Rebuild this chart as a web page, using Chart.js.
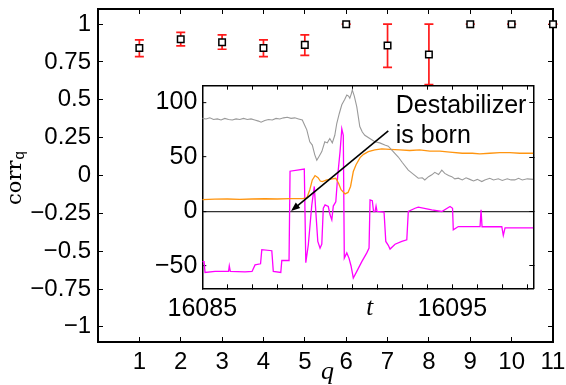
<!DOCTYPE html>
<html>
<head>
<meta charset="utf-8">
<script src="https://cdn.jsdelivr.net/npm/chart.js@4"></script>
<style>
  html, body { margin: 0; padding: 0; background: #fff; }
  #wrap { position: relative; width: 566px; height: 385px; }
  #main { position: absolute; left: 0; top: 0; }
  #inset { position: absolute; left: 150px; top: 80px; }
</style>
</head>
<body>
<div id="wrap">
  <canvas id="main" width="566" height="385"></canvas>
  <canvas id="inset" width="390" height="240"></canvas>
</div>
<script>
// main panel: correlation per q, with error bars
const qValues = [1, 2, 3, 4, 5, 6, 7, 8, 9, 10, 11]
const corrMean = [0.843, 0.90, 0.88, 0.843, 0.863, 1, 0.859, 0.80, 1, 1, 1]
const corrLow = [0.786, 0.856, 0.834, 0.786, 0.794, 1, 0.715, 0.60, 1, 1, 1]
const corrHigh = [0.896, 0.945, 0.929, 0.896, 0.929, 1, 1, 1, 1, 1, 1]
const qTicks = [1, 2, 3, 4, 5, 6, 7, 8, 9, 10, 11]
const corrTicks = [-1, -0.75, -0.5, -0.25, 0, 0.25, 0.5, 0.75, 1]

// inset: time series around the birth of the destabilizer
const grayT = [16085.0, 16085.15, 16085.3, 16085.45, 16085.6, 16085.75, 16085.9, 16086.05, 16086.2, 16086.35,
  16086.5, 16086.65, 16086.8, 16086.95, 16087.1, 16087.25, 16087.35, 16087.5, 16087.65, 16087.8,
  16087.95, 16088.1, 16088.25, 16088.4, 16088.55, 16088.7, 16088.85, 16089.0, 16089.1, 16089.18,
  16089.3, 16089.4, 16089.5, 16089.58, 16089.68, 16089.78, 16089.9, 16090.0, 16090.1, 16090.2,
  16090.3, 16090.38, 16090.48, 16090.58, 16090.7, 16090.78, 16090.85, 16090.9, 16090.96, 16091.0,
  16091.08, 16091.18, 16091.3, 16091.4, 16091.5, 16091.7, 16091.9, 16092.1, 16092.3, 16092.44,
  16092.6, 16092.84, 16093.0, 16093.24, 16093.4, 16093.64, 16093.8, 16093.9, 16094.05, 16094.18,
  16094.3, 16094.45, 16094.58, 16094.7, 16094.85, 16094.98, 16095.1, 16095.24, 16095.4, 16095.55,
  16095.7, 16095.85, 16096.0, 16096.18, 16096.3, 16096.5, 16096.65, 16096.84, 16097.0, 16097.2,
  16097.35, 16097.5, 16097.65, 16097.8, 16098.0, 16098.24]
const grayV = [85.5, 85, 86, 84.5, 85, 84, 85.5, 84.5, 84, 85,
  84.5, 85.5, 84.5, 85, 84, 83, 82, 83.5, 84.5, 84,
  85.5, 85, 86, 86.5, 85.5, 86, 85, 84, 79, 75,
  64, 61, 52, 47, 51, 55, 64, 63, 67, 63,
  70, 81, 90, 98, 103, 107, 106, 104, 108, 111.6,
  106, 96, 78, 73, 70, 67, 64, 63, 61, 60,
  56, 50, 45, 38, 35, 30.6, 31, 29, 32, 33.7,
  36, 34, 38, 35, 33, 32, 30, 30.6, 29, 31,
  29.5, 28, 29.5, 27.5, 29, 30.5, 29, 30, 28.5, 30,
  29, 29, 30.5, 29, 30, 29.5]

const orangeT = [16085.0, 16085.5, 16086.0, 16086.5, 16087.0, 16087.5, 16088.0, 16088.5, 16089.0, 16089.18,
  16089.3, 16089.4, 16089.51, 16089.63, 16089.72, 16089.8, 16089.98, 16090.2, 16090.34, 16090.45,
  16090.55, 16090.71, 16090.83, 16090.93, 16091.04, 16091.15, 16091.31, 16091.45, 16091.64, 16091.9,
  16092.18, 16092.5, 16092.9, 16093.3, 16093.7, 16094.1, 16094.5, 16094.9, 16095.4, 16095.8,
  16096.1, 16096.5, 16096.9, 16097.3, 16097.7, 16098.24]
const orangeV = [11, 11.3, 11.5, 11.2, 11.5, 11.7, 11.5, 11.8, 11.8, 12.5,
  20, 29, 33, 31, 28, 27.5, 29, 30, 30.5, 26,
  20, 16.2, 17.5, 23, 36.7, 43, 49.5, 52.5, 55, 56.5,
  57.5, 57, 56.5, 56, 56.5, 55.5, 55.5, 54.5, 53.5, 53.5,
  53, 53.5, 54, 54, 53.5, 53.5]

const magentaT = [16085.0, 16085.07, 16085.11, 16085.51, 16086.05, 16086.08, 16086.12, 16086.71, 16086.99, 16087.11,
  16087.33, 16087.38, 16087.78, 16087.84, 16088.14, 16088.18, 16088.47, 16088.51, 16089.08, 16089.14,
  16089.24, 16089.38, 16089.48, 16089.54, 16089.62, 16089.71, 16089.78, 16089.84, 16089.91, 16090.04,
  16090.11, 16090.18, 16090.24, 16090.34, 16090.42, 16090.51, 16090.58, 16090.64, 16090.68, 16090.78,
  16090.87, 16090.95, 16091.04, 16091.18, 16091.38, 16091.58, 16091.67, 16091.71, 16091.8, 16091.85,
  16091.91, 16091.95, 16091.99, 16092.27, 16092.34, 16092.44, 16092.51, 16092.71, 16092.98, 16093.18,
  16093.24, 16093.51, 16093.64, 16094.18, 16094.58, 16094.91, 16095.01, 16095.04, 16095.24, 16096.11,
  16096.15, 16096.19, 16096.98, 16097.04, 16097.11, 16098.24]
const magentaV = [-46, -46, -56, -55, -55, -50, -55, -55.5, -55, -49,
  -48, -35, -36, -55, -56, -45, -45, 37, 39, -47,
  -30.6, 6, 23, 0, -27.5, -33.6, -30, 3, 6, 4.6,
  -3, -7.6, 5, 9, 33.7, 55, 76, 70, -42.8, -38,
  -43, -50, -61, -55, -46, -38, -33.6, 10.7, 10, 0,
  0, 5, 0, -0.5, -27.5, -31, -34.5, -30, -27.5, -26,
  0, 3, 4, 1.5, 0, 4.6, 3, -16.8, -13.8, -13.8,
  1.5, -14, -14, -22, -15, -15]

const insetVTicks = [-50, 0, 50, 100]
const insetTLabels = [16085, 16095]
const insetTTicks = Array.from({ length: 14 }, (_, i) => 16085 + i)

const arrowFrom = [16092.44, 74]
const arrowTo = [16088.55, 0.5]
const noteAt = [16092.74, 90.3]

const sans = 'Liberation Sans, Arial, Helvetica, sans-serif'
const serif = 'Liberation Serif, Times New Roman, serif'

const fmt = (v) => (v < 0 ? '\u2212' + String(-v) : String(v))
const pts = (ts, vs) => ts.map((t, i) => ({ x: t, y: vs[i] }))
const setTicks = (list) => (s) => { s.ticks = list.map((v) => ({ value: v })) }

// matlab style box: axis line plus inward tick marks (negative tick length)
function boxAxis(pos, min, max, tickList, size, tickLen, lineW, extra) {
  const horiz = pos === 'top' || pos === 'bottom'
  return Object.assign({
    type: 'linear',
    position: pos,
    min,
    max,
    afterBuildTicks: setTicks(tickList),
    afterFit: (s) => {
      if (horiz) { s.height = size; s.paddingLeft = 0; s.paddingRight = 0 }
      else { s.width = size; s.paddingTop = 0; s.paddingBottom = 0 }
    },
    grid: { display: true, drawOnChartArea: false, drawTicks: true, tickLength: -tickLen, tickColor: '#000', tickWidth: 1 },
    border: { display: true, color: '#000', width: lineW },
    ticks: { display: false },
  }, extra || {})
}

const mainDecor = {
  id: 'mainDecor',
  beforeDatasetsDraw(chart) {
    const { ctx, scales: { x, y } } = chart
    ctx.save()
    ctx.strokeStyle = '#ff1a1a'
    ctx.lineWidth = 1.7
    qValues.forEach((q, i) => {
      const px = x.getPixelForValue(q)
      const top = y.getPixelForValue(corrHigh[i])
      const bot = y.getPixelForValue(corrLow[i])
      ctx.beginPath()
      ctx.moveTo(px, top); ctx.lineTo(px, bot)
      ctx.moveTo(px - 4.5, top); ctx.lineTo(px + 4.5, top)
      ctx.moveTo(px - 4.5, bot); ctx.lineTo(px + 4.5, bot)
      ctx.stroke()
    })
    ctx.restore()
  },
  afterDraw(chart) {
    const { ctx, chartArea: a } = chart
    ctx.save()
    ctx.fillStyle = '#000'
    // x title
    ctx.font = 'italic 26px ' + serif
    ctx.textAlign = 'center'
    ctx.textBaseline = 'alphabetic'
    ctx.fillText('q', (a.left + a.right) / 2 + 2, 379)
    // y title, corr with subscript q
    ctx.translate(20.7, 178)
    ctx.rotate(-Math.PI / 2)
    ctx.textAlign = 'left'
    ctx.font = '21px DejaVu Serif, serif'
    const w1 = ctx.measureText('corr').width
    ctx.font = '15px ' + sans
    const w2 = ctx.measureText('q').width
    const start = -(w1 + 1 + w2) / 2
    ctx.font = '21px DejaVu Serif, serif'
    ctx.fillText('corr', start, 0)
    ctx.font = '15px ' + sans
    ctx.fillText('q', start + w1 + 1, 3.5)
    ctx.restore()
  },
}

new Chart(document.getElementById('main'), {
  type: 'scatter',
  data: {
    datasets: [
      {
        data: pts(qValues, corrMean),
        pointStyle: 'rect',
        pointRadius: 4.6,
        borderWidth: 1.5,
        borderColor: '#000',
        backgroundColor: '#fff',
        clip: false,
      },
    ],
  },
  options: {
    responsive: false,
    devicePixelRatio: 1,
    animation: false,
    events: [],
    layout: { padding: 0 },
    plugins: { legend: { display: false }, tooltip: { enabled: false } },
    scales: {
      x: boxAxis('bottom', 0, 11, qTicks, 43, 5, 2, {
        ticks: {
          autoSkip: false,
          maxRotation: 0,
          minRotation: 0,
          padding: 11,
          color: '#000',
          font: { family: sans, size: 24 },
          callback: (v) => String(v),
        },
      }),
      y: boxAxis('left', -1.1, 1.1, corrTicks, 98, 5, 2, {
        ticks: {
          padding: 12,
          color: '#000',
          font: { family: sans, size: 24 },
          callback: (v) => fmt(v),
        },
      }),
      x2: boxAxis('top', 0, 11, qTicks, 9, 5, 2),
      y2: boxAxis('right', -1.1, 1.1, corrTicks, 13, 5, 2),
    },
  },
  plugins: [mainDecor],
})

// inset
const insetDecor = {
  id: 'insetDecor',
  beforeDraw(chart) {
    const { ctx, chartArea: a } = chart
    ctx.save()
    ctx.fillStyle = '#fff'
    ctx.fillRect(a.left, a.top, a.right - a.left, a.bottom - a.top)
    ctx.restore()
  },
  afterDatasetsDraw(chart) {
    const { ctx, chartArea: a, scales: { x, y } } = chart
    const x0 = x.getPixelForValue(arrowFrom[0]), y0 = y.getPixelForValue(arrowFrom[1])
    const x1 = x.getPixelForValue(arrowTo[0]), y1 = y.getPixelForValue(arrowTo[1])
    const ang = Math.atan2(y1 - y0, x1 - x0)
    const c = Math.cos(ang), s = Math.sin(ang)
    ctx.save()
    ctx.strokeStyle = '#000'
    ctx.fillStyle = '#000'
    ctx.lineWidth = 1.6
    ctx.beginPath()
    ctx.moveTo(x0, y0)
    ctx.lineTo(x1 - 7 * c, y1 - 7 * s)
    ctx.stroke()
    ctx.beginPath()
    ctx.moveTo(x1, y1)
    ctx.lineTo(x1 - 9 * c + 3.5 * s, y1 - 9 * s - 3.5 * c)
    ctx.lineTo(x1 - 9 * c - 3.5 * s, y1 - 9 * s + 3.5 * c)
    ctx.closePath()
    ctx.fill()
    ctx.font = '25px ' + sans
    ctx.textAlign = 'left'
    ctx.textBaseline = 'alphabetic'
    const tx = x.getPixelForValue(noteAt[0]), ty = y.getPixelForValue(noteAt[1])
    ctx.fillText('Destabilizer', tx, ty)
    ctx.fillText('is born', tx, ty + 30)
    ctx.font = 'italic 25px ' + serif
    ctx.textAlign = 'center'
    ctx.fillText('t', (a.left + a.right) / 2 + 2, 235)
    ctx.restore()
  },
}

new Chart(document.getElementById('inset'), {
  type: 'scatter',
  data: {
    datasets: [
      { data: pts(grayT, grayV), showLine: true, pointRadius: 0, borderColor: '#9a9a9a', borderWidth: 1.1 },
      { data: pts(orangeT, orangeV), showLine: true, pointRadius: 0, borderColor: '#ff9510', borderWidth: 1.3 },
      { data: pts(magentaT, magentaV), showLine: true, pointRadius: 0, borderColor: '#ff00ff', borderWidth: 1.3 },
    ],
  },
  options: {
    responsive: false,
    devicePixelRatio: 1,
    animation: false,
    events: [],
    layout: { padding: 0 },
    plugins: { legend: { display: false }, tooltip: { enabled: false } },
    scales: {
      x: boxAxis('bottom', 16085, 16098.24, insetTTicks, 31.7, 4, 1.5, {
        ticks: {
          autoSkip: false,
          maxRotation: 0,
          minRotation: 0,
          padding: 10,
          color: '#000',
          font: { family: sans, size: 25 },
          callback: (v) => (insetTLabels.includes(v) ? String(v) : ''),
        },
      }),
      y: boxAxis('left', -70.5, 115.5, insetVTicks, 52.3, 4, 1.5, {
        grid: {
          display: true,
          drawOnChartArea: true,
          drawTicks: true,
          tickLength: -4,
          tickColor: '#000',
          tickWidth: 1,
          lineWidth: 1.3,
          color: (c) => (c.tick && c.tick.value === 0 ? '#333' : 'rgba(0,0,0,0)'),
        },
        ticks: {
          padding: 9,
          color: '#000',
          font: { family: sans, size: 25 },
          callback: (v) => fmt(v),
        },
      }),
      x2: boxAxis('top', 16085, 16098.24, insetTTicks, 5.7, 4, 1.5),
      y2: boxAxis('right', -70.5, 115.5, insetVTicks, 6.7, 4, 1.5),
    },
  },
  plugins: [insetDecor],
})
</script>
</body>
</html>
